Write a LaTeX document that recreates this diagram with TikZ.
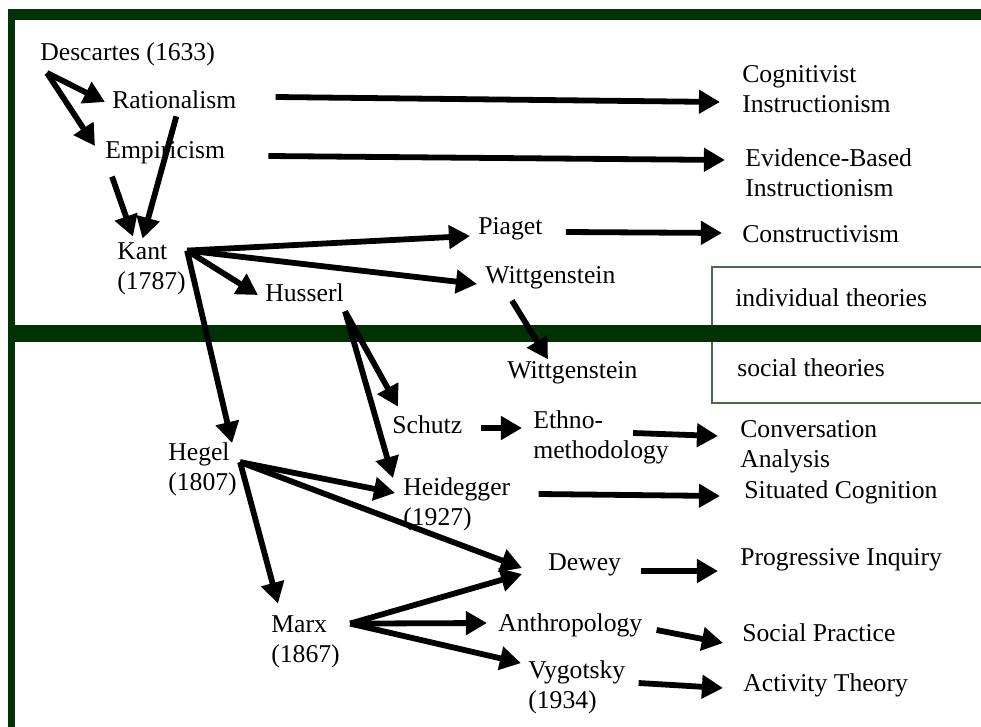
\documentclass[tikz,border=0pt]{standalone}
\usepackage{fontspec}
\setmainfont{Liberation Serif}
\usetikzlibrary{positioning,calc,arrows.meta}
\tikzset{>={Triangle[length=12pt,width=13pt]}}
\definecolor{framegreen}{RGB}{0,50,5}
\definecolor{boxgreen}{RGB}{70,110,70}

\begin{document}
\begin{tikzpicture}[x=0.02cm,y=-0.02cm,
  lbl/.style={anchor=west,inner sep=0pt,align=left,font=\fontsize{14.6}{17}\selectfont},
  arr/.style={->,line width=3.3pt}]
\useasboundingbox (0,0) rectangle (981,727);
\fill[framegreen] (8,9) rectangle (981,20);
\fill[framegreen] (8,9) rectangle (15,727);
\draw[boxgreen,line width=1.2pt] (995,267) -| (712,403) -- (995,403);
\fill[framegreen] (8,325) rectangle (981,342);

\node[lbl] (desc) at (40,54) {Descartes (1633)};
\node[lbl] (rat) at (112,100) {Rationalism};
\node[lbl] (emp) at (105,153) {Empiricism};
\node[lbl] (kant) at (117,269) {Kant\\(1787)};
\node[lbl] (huss) at (265,293) {Husserl};
\node[lbl] (piag) at (478,229) {Piaget};
\node[lbl] (witA) at (485,278) {Wittgenstein};
\node[lbl] (witB) at (507,373) {Wittgenstein};
\node[lbl] (schutz) at (392,425) {Schutz};
\node[lbl] (ethno) at (533,437) {Ethno-\\methodology};
\node[lbl] (hegel) at (168,469) {Hegel\\(1807)};
\node[lbl] (heid) at (403,504) {Heidegger\\(1927)};
\node[lbl] (dewey) at (548,565) {Dewey};
\node[lbl] (marx) at (271,642) {Marx\\(1867)};
\node[lbl] (anthro) at (498,625) {Anthropology};
\node[lbl] (vyg) at (528,687) {Vygotsky\\(1934)};

\node[lbl] (cogn) at (742,89) {Cognitivist\\Instructionism};
\node[lbl] (evid) at (745,173) {Evidence-Based\\Instructionism};
\node[lbl] (constr) at (742,234) {Constructivism};
\node[lbl] (indiv) at (735,298) {individual theories};
\node[lbl] (social) at (737,368) {social theories};
\node[lbl] (conv) at (740,447) {Conversation\\Analysis};
\node[lbl] (situ) at (744,492) {Situated Cognition};
\node[lbl] (prog) at (740,560) {Progressive Inquiry};
\node[lbl] (socpr) at (742,633) {Social Practice};
\node[lbl] (activ) at (743,685) {Activity Theory};

\coordinate (descout) at ([shift={(7,7)}]desc.south west);
\coordinate (kantout) at ([shift={(1,8)}]kant.north east);
\coordinate (husout) at ([shift={(1,9)}]huss.south east);
\coordinate (hegout) at ([shift={(3,20)}]hegel.north east);
\coordinate (marxout) at ([shift={(10,8)}]marx.north east);

\draw[arr] (descout) -- ([shift={(-7,2)}]rat.west);
\draw[arr] (descout) -- ([shift={(-10,-7)}]emp.west);
\draw[arr] ([shift={(2,7)}]rat.south) -- ([shift={(-9,-4)}]kant.north);
\draw[arr] ([shift={(7,12)}]emp.south west) -- ([shift={(16,-6)}]kant.north west);
\draw[arr] ([shift={(39,-3)}]rat.east) -- ([shift={(-22,13)}]cogn.west);
\draw[arr] ([shift={(43,3)}]emp.east) -- ([shift={(-20,-13)}]evid.west);
\draw[arr] (kantout) -- ([shift={(-8,7)}]piag.west);
\draw[arr] (kantout) -- ([shift={(-8,6)}]witA.west);
\draw[arr] (kantout) -- ([shift={(-7,2)}]huss.west);
\draw[arr] (kantout) -- ([shift={(-5,1)}]hegel.north east);
\draw[arr] ([shift={(23,3)}]piag.east) -- ([shift={(-20,-1)}]constr.west);
\draw[arr] ([shift={(27,11)}]witA.south west) -- ([shift={(41,-2)}]witB.north west);
\draw[arr] (husout) -- ([shift={(6,-9)}]schutz.north west);
\draw[arr] (husout) -- ([shift={(-10,1)}]heid.north west);
\draw[arr] ([shift={(18,3)}]schutz.east) -- ([shift={(-11,-9)}]ethno.west);
\draw[arr] ([shift={(-36,-4)}]ethno.east) -- ([shift={(-22,-11)}]conv.west);
\draw[arr] (hegout) -- ([shift={(-8,-11)}]heid.west);
\draw[arr] (hegout) -- ([shift={(-26,3)}]dewey.west);
\draw[arr] (hegout) -- ([shift={(7,-12)}]marx.north west);
\draw[arr] ([shift={(28,-10)}]heid.east) -- ([shift={(-24,4)}]situ.west);
\draw[arr] ([shift={(20,6)}]dewey.east) -- ([shift={(-22,11)}]prog.west);
\draw[arr] (marxout) -- ([shift={(-26,9)}]dewey.west);
\draw[arr] (marxout) -- ([shift={(-11,-2)}]anthro.west);
\draw[arr] (marxout) -- ([shift={(-7,3)}]vyg.north west);
\draw[arr] ([shift={(14,5)}]anthro.east) -- ([shift={(-19,10)}]socpr.west);
\draw[arr] ([shift={(13,-4)}]vyg.east) -- ([shift={(-20,3)}]activ.west);
\end{tikzpicture}
\end{document}
